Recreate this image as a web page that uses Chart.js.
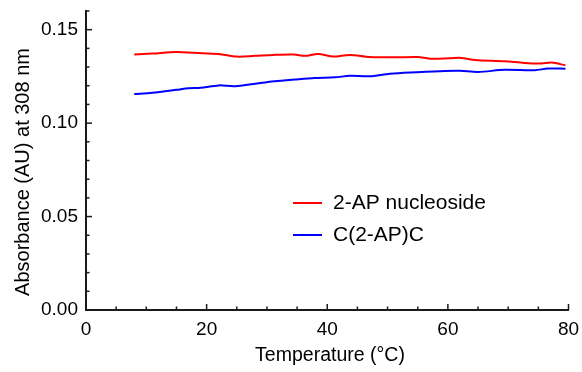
<!DOCTYPE html>
<html>
<head>
<meta charset="utf-8">
<script src="https://cdn.jsdelivr.net/npm/chart.js@4"></script>
<style>
html,body{margin:0;padding:0;background:#fff;}
#wrap{width:582px;height:372px;position:relative;}
</style>
</head>
<body>
<div id="wrap"><canvas id="c" width="582" height="372"></canvas></div>
<script>
const seriesNames = ["2-AP nucleoside", "C(2-AP)C"];
const redTemps = [8, 11, 15, 18, 22, 25, 28, 31, 34.5, 36.3, 38.5, 41, 43.7, 47, 51.5, 55, 57, 60.3, 62.2, 64.5, 69.4, 72.7, 75.5, 77.2, 79.5];
const redVals  = [0.1367, 0.1372, 0.1381, 0.1376, 0.1370, 0.1356, 0.1360, 0.1365, 0.1367, 0.1360, 0.1370, 0.1356, 0.1365, 0.1354, 0.1352, 0.1354, 0.1345, 0.1347, 0.1349, 0.1338, 0.1331, 0.1322, 0.1319, 0.1324, 0.1309];
const blueTemps = [8, 11, 15, 17, 19, 22, 24.7, 29.7, 34.6, 37.9, 41.3, 43.7, 47, 50.4, 54.8, 59.5, 62, 65, 69.4, 74.4, 76.6, 79.5];
const blueVals  = [0.1156, 0.1162, 0.1178, 0.1187, 0.1189, 0.1202, 0.1197, 0.1218, 0.1233, 0.1242, 0.1245, 0.1253, 0.1251, 0.1264, 0.1272, 0.1279, 0.1280, 0.1274, 0.1285, 0.1283, 0.1292, 0.1291];
const xTickLabels = [0, 20, 40, 60, 80];
const yTickLabels = [0.00, 0.05, 0.10, 0.15];
const xTitle = "Temperature (°C)";
const yTitle = "Absorbance (AU) at 308 nm";

const FONT = "'Liberation Sans', Arial, sans-serif";
const AXIS_COLOR = '#1a1a1a';

function toPts(xs, ys){ return xs.map((x,i)=>({x:x, y:ys[i]})); }
function isLabel(v, list){ return list.some(t => Math.abs(t - v) < 1e-6); }

const innerTicks = {
  id: 'innerTicks',
  afterDraw(chart){
    const ctx = chart.ctx;
    const xs = chart.scales.x, ys = chart.scales.y;
    ctx.save();
    ctx.strokeStyle = AXIS_COLOR;
    ctx.lineWidth = 1.5;
    xs.ticks.forEach(t => {
      const px = xs.getPixelForValue(t.value);
      const len = isLabel(t.value, xTickLabels) ? 6 : 3.5;
      ctx.beginPath(); ctx.moveTo(px, xs.top); ctx.lineTo(px, xs.top - len); ctx.stroke();
    });
    ys.ticks.forEach(t => {
      const py = ys.getPixelForValue(t.value);
      const len = isLabel(t.value, yTickLabels) ? 6 : 3.5;
      ctx.beginPath(); ctx.moveTo(ys.right, py); ctx.lineTo(ys.right + len, py); ctx.stroke();
    });
    ctx.restore();
  }
};

const axisTitles = {
  id: 'axisTitles',
  afterDraw(chart){
    const ctx = chart.ctx;
    ctx.save();
    ctx.fillStyle = '#000';
    ctx.textAlign = 'center';
    ctx.textBaseline = 'middle';
    ctx.font = "19.5px " + FONT;
    ctx.fillText(xTitle, 330, 356);
    ctx.translate(23, 172);
    ctx.rotate(-Math.PI / 2);
    ctx.font = "20px " + FONT;
    ctx.fillText(yTitle, 0, 0);
    ctx.restore();
  }
};

const inLegend = {
  id: 'inLegend',
  afterDraw(chart){
    const ctx = chart.ctx;
    const a = chart.chartArea;
    ctx.save();
    ctx.font = "21px " + FONT;
    ctx.textBaseline = 'middle';
    chart.data.datasets.forEach((ds, i) => {
      const y = a.top + 192 + i * 32;
      const x0 = a.left + 207;
      ctx.strokeStyle = ds.borderColor;
      ctx.lineWidth = 2;
      ctx.beginPath(); ctx.moveTo(x0, y); ctx.lineTo(x0 + 29, y); ctx.stroke();
      ctx.fillStyle = '#000';
      ctx.fillText(ds.label, x0 + 40, y);
    });
    ctx.restore();
  }
};

new Chart(document.getElementById('c'), {
  type: 'line',
  data: {
    datasets: [
      { label: seriesNames[0], data: toPts(redTemps, redVals), borderColor: '#ff0000', borderWidth: 2, pointRadius: 0, tension: 0.3, fill: false },
      { label: seriesNames[1], data: toPts(blueTemps, blueVals), borderColor: '#0000ff', borderWidth: 2, pointRadius: 0, tension: 0.3, fill: false }
    ]
  },
  options: {
    responsive: false,
    animation: false,
    devicePixelRatio: 1,
    layout: { padding: { top: 11, right: 13.5, left: 0, bottom: 0 } },
    plugins: { legend: { display: false }, tooltip: { enabled: false } },
    scales: {
      x: {
        type: 'linear', min: 0, max: 80,
        afterFit(s){ s.height = 62; s.paddingLeft = 0; s.paddingRight = 0; },
        grid: { display: false, drawTicks: false },
        border: { display: true, color: AXIS_COLOR, width: 2 },
        ticks: { stepSize: 5, autoSkip: false, maxRotation: 0, padding: 8, color: '#000', font: { family: FONT, size: 19 },
          callback: v => isLabel(v, xTickLabels) ? String(Math.round(v)) : '' },
        title: { display: false }
      },
      y: {
        type: 'linear', min: 0, max: 0.16,
        afterFit(s){ s.width = 86; s.paddingTop = 0; s.paddingBottom = 0; },
        grid: { display: false, drawTicks: false },
        border: { display: true, color: AXIS_COLOR, width: 2 },
        ticks: { stepSize: 0.01, autoSkip: false, padding: 8, color: '#000', font: { family: FONT, size: 19 },
          callback: v => isLabel(v, yTickLabels) ? v.toFixed(2) : '' },
        title: { display: false }
      }
    }
  },
  plugins: [innerTicks, axisTitles, inLegend]
});
</script>
</body>
</html>
